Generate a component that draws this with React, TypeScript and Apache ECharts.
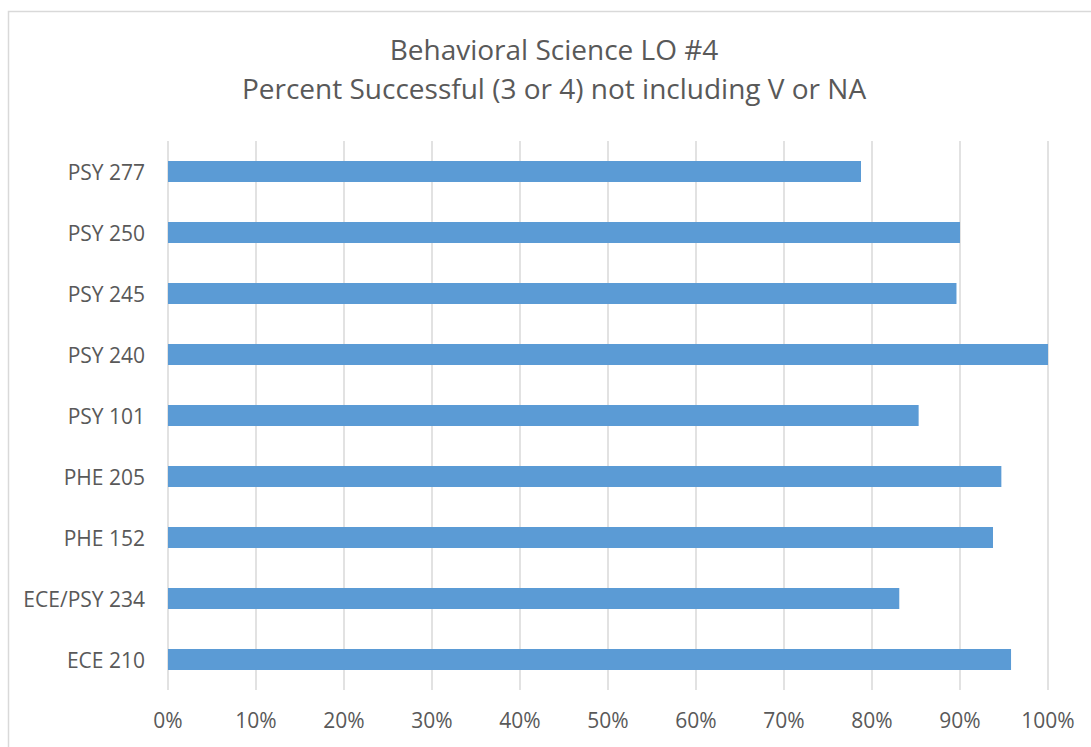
import React, { useEffect, useRef } from "react";
import * as echarts from "echarts";

const categories = [
  "ECE 210",
  "ECE/PSY 234",
  "PHE 152",
  "PHE 205",
  "PSY 101",
  "PSY 240",
  "PSY 245",
  "PSY 250",
  "PSY 277",
];
const successPct = [95.8, 83.1, 93.75, 94.7, 85.3, 100, 89.6, 90.0, 78.75];
const titleLines = ["Behavioral Science LO #4", "Percent Successful (3 or 4) not including V or NA"];

export default function App() {
  const ref = useRef<HTMLDivElement>(null);
  useEffect(() => {
    if (!ref.current) return;
    const chart = echarts.init(ref.current, null, { renderer: "svg" });
    const font = "'Open Sans', sans-serif";
    const titleStyle = {
      fontFamily: font,
      fontSize: 28,
      fontWeight: "normal",
      color: "#595959",
    };
    chart.setOption({
      animation: false,
      backgroundColor: "#ffffff",
      title: [
        { text: titleLines[0], left: 554, textAlign: "center", top: 35, padding: 0, textStyle: titleStyle },
        { text: titleLines[1], left: 554, textAlign: "center", top: 74, padding: 0, textStyle: titleStyle },
      ],
      graphic: [
        {
          type: "rect",
          left: 6,
          top: 9,
          shape: { width: 1100, height: 760 },
          style: { fill: "none", stroke: "#d9d9d9", lineWidth: 1.5 },
          silent: true,
        },
      ],
      grid: { left: 168, right: 43, top: 141, bottom: 57, containLabel: false },
      xAxis: {
        type: "value",
        min: 0,
        max: 100,
        interval: 10,
        axisLine: { show: false },
        axisTick: { show: false },
        axisLabel: {
          formatter: "{value}%",
          fontFamily: font,
          fontSize: 21,
          color: "#595959",
          margin: 19,
        },
        splitLine: { show: true, lineStyle: { color: "#d9d9d9", width: 1.5 } },
      },
      yAxis: {
        type: "category",
        data: categories,
        axisLine: { show: false },
        axisTick: { show: false },
        axisLabel: {
          fontFamily: font,
          fontSize: 21,
          color: "#595959",
          margin: 23,
        },
        splitLine: { show: false },
      },
      series: [
        {
          type: "bar",
          data: successPct,
          barWidth: 21,
          itemStyle: { color: "#5b9bd5" },
        },
      ],
    });
    return () => chart.dispose();
  }, []);
  return (
    <div
      ref={ref}
      style={{ position: "fixed", left: 0, top: 0, width: 1091, height: 747 }}
    />
  );
}
